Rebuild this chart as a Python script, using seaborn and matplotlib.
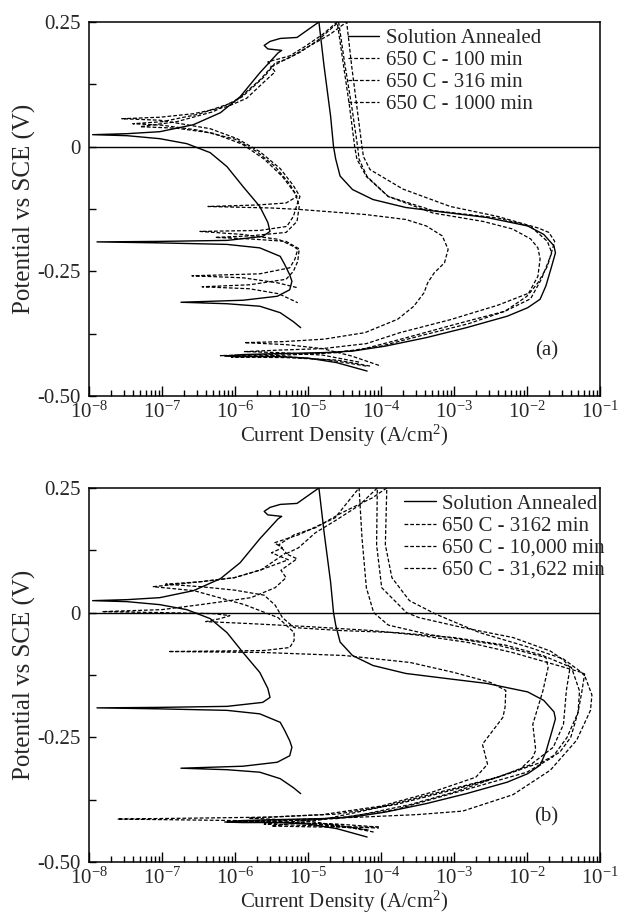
import numpy as np
import pandas as pd
import matplotlib
matplotlib.use('Agg')
import matplotlib.pyplot as plt
import seaborn as sns
from matplotlib.ticker import FixedLocator, FixedFormatter, NullFormatter, LogFormatterSciNotation

# ---- donnees : log10(i) et potentiel (V vs SCE) ----
# courbe solution recuite (identique dans (a) et (b))
sa_logi = [-4.19, -4.61, -5.0, -5.4, -5.9, -6.14, -5.9, -5.4, -4.78, -4.39, -3.94, -3.38, -2.83, -2.27,
           -1.99, -1.82, -1.74, -1.66, -1.61, -1.63, -1.77, -1.99, -2.55, -3.11, -3.66, -4.11, -4.39,
           -4.56, -4.62, -4.65, -4.69, -4.78, -4.85,
           -5.15, -5.38, -5.52, -5.60, -5.55, -5.36, -5.41, -5.66, -5.93, -6.2, -6.57, -7.03, -7.48,
           -7.95, -7.48, -7.03, -6.66, -6.34, -6.11, -5.89, -5.66, -5.55, -5.52, -5.62, -6.11, -7.03,
           -7.89, -7.03, -6.11, -5.66, -5.38, -5.32, -5.25, -5.22, -5.25, -5.42, -5.89, -6.74, -6.11,
           -5.66, -5.38, -5.2, -5.10]
sa_pot = [-0.450, -0.433, -0.424, -0.421, -0.421, -0.420, -0.417, -0.415, -0.413, -0.41, -0.40, -0.383,
          -0.363, -0.34, -0.323, -0.306, -0.279, -0.239, -0.213, -0.199, -0.176, -0.159, -0.142, -0.132,
          -0.122, -0.106, -0.086, -0.059, -0.025, 0.0, 0.061, 0.162, 0.25,
          0.219, 0.217, 0.211, 0.203, 0.196, 0.193, 0.188, 0.148, 0.10, 0.068, 0.044, 0.03, 0.026,
          0.024, 0.022, 0.016, 0.006, -0.012, -0.04, -0.08, -0.12, -0.152, -0.17, -0.18, -0.188, -0.19,
          -0.191, -0.193, -0.196, -0.203, -0.22, -0.236, -0.257, -0.27, -0.287, -0.30, -0.308, -0.312,
          -0.315, -0.32, -0.333, -0.351, -0.363]

# (a) 650 C - 100 min
a100_logi = [-4.3, -4.8, -5.4, -5.87, -5.4, -4.8, -4.2, -3.74, -3.05, -2.4, -1.96, -1.85, -1.72, -1.62,
             -1.7, -1.85, -2.4, -3.05, -3.7, -4.15, -4.24, -4.26, -4.33, -4.40, -4.47,
             -4.7, -5.0, -5.2, -5.35, -5.5, -5.45, -5.6, -5.84, -6.11, -6.57, -7.03, -7.55, -7.03, -6.34,
             -5.97, -5.66, -5.38, -5.2, -5.11, -5.15, -5.2, -5.29, -5.66, -6.48, -5.9, -5.4, -5.2, -5.14,
             -5.18, -5.25, -5.66, -6.59, -5.89, -5.42, -5.14]
a100_pot = [-0.432, -0.418, -0.413, -0.411, -0.408, -0.405, -0.395, -0.373, -0.347, -0.318, -0.293,
            -0.273, -0.24, -0.19, -0.172, -0.163, -0.14, -0.12, -0.085, -0.046, -0.02, 0.0, 0.08, 0.16,
            0.25,
            0.225, 0.2, 0.183, 0.172, 0.16, 0.15, 0.13, 0.097, 0.08, 0.066, 0.059, 0.056, 0.053, 0.036,
            0.016, -0.01, -0.044, -0.078, -0.10, -0.116, -0.14, -0.16, -0.168, -0.170, -0.176, -0.186,
            -0.2, -0.206, -0.226, -0.243, -0.255, -0.259, -0.263, -0.273, -0.283]

# (a) 650 C - 316 min
a316_logi = [-4.2, -4.7, -5.4, -6.2, -5.4, -4.8, -4.3, -3.7, -3.0, -2.3, -1.95, -1.8, -1.66, -1.72,
             -1.95, -2.4, -3.29, -3.9, -4.19, -4.3, -4.32, -4.4, -4.5, -4.58,
             -4.85, -5.1, -5.3, -5.45, -5.5, -5.6, -5.9, -6.3, -6.8, -7.3, -6.8, -6.3, -5.9, -5.6, -5.35,
             -5.17, -5.12, -5.15, -5.3, -5.8, -6.27, -5.8, -5.3, -5.12, -5.14, -5.2, -5.3, -5.8, -6.45,
             -5.8, -5.4, -5.14]
a316_pot = [-0.44, -0.428, -0.42, -0.419, -0.416, -0.414, -0.408, -0.385, -0.357, -0.33, -0.305,
            -0.265, -0.213, -0.19, -0.16, -0.143, -0.128, -0.1, -0.06, -0.025, 0.0, 0.08, 0.17, 0.25,
            0.215, 0.19, 0.175, 0.168, 0.158, 0.14, 0.1, 0.07, 0.05, 0.04, 0.037, 0.027, 0.005, -0.025,
            -0.06, -0.095, -0.12, -0.15, -0.172, -0.179, -0.182, -0.185, -0.19, -0.205, -0.23, -0.25,
            -0.266, -0.277, -0.281, -0.285, -0.295, -0.313]

# (a) 650 C - 1000 min
a1000_logi = [-4.15, -4.6, -5.3, -6.05, -5.3, -4.6, -4.0, -3.4, -2.8, -2.3, -2.0, -1.85, -1.82, -1.85,
              -1.95, -2.2, -2.6, -3.29, -3.9, -4.2, -4.33, -4.36, -4.43, -4.52, -4.60,
              -4.8, -5.05, -5.25, -5.4, -5.55, -5.5, -5.65, -6.0, -6.5, -7.0, -7.4, -7.0, -6.5, -6.0,
              -5.7, -5.45, -5.25, -5.15, -5.3, -5.7, -6.37, -5.5, -5.11, -4.22, -3.66, -3.38, -3.16,
              -3.08, -3.13, -3.27, -3.36, -3.41, -3.55, -3.77, -4.22, -4.78, -5.34, -5.87, -5.3, -4.8,
              -4.4, -4.0]
a1000_pot = [-0.44, -0.428, -0.423, -0.422, -0.418, -0.413, -0.4, -0.377, -0.355, -0.33, -0.3, -0.26,
             -0.225, -0.203, -0.185, -0.165, -0.15, -0.133, -0.1, -0.06, -0.025, 0.0, 0.08, 0.17, 0.25,
             0.225, 0.2, 0.182, 0.176, 0.17, 0.16, 0.135, 0.09, 0.065, 0.05, 0.046, 0.043, 0.033, 0.015,
             -0.01, -0.04, -0.075, -0.1, -0.113, -0.117, -0.12, -0.123, -0.126, -0.136, -0.146, -0.159,
             -0.179, -0.206, -0.233, -0.253, -0.273, -0.293, -0.32, -0.346, -0.373, -0.386, -0.391,
             -0.393, -0.397, -0.405, -0.42, -0.44]

# (b) 650 C - 3162 min
b3162_logi = [-4.03, -4.6, -5.3, -6.1, -5.3, -4.6, -4.26, -3.6, -3.0, -2.5, -2.1, -1.92, -1.88, -1.92,
              -1.78, -1.71, -1.74, -2.43, -3.34, -3.9, -4.1, -4.2, -4.26, -4.30,
              -4.63, -5.13, -5.46, -5.35, -5.5, -5.27, -5.64, -6.01, -6.47, -7.12, -6.56, -5.87, -5.41,
              -5.19, -5.19, -5.25, -5.6, -6.91, -5.6, -4.5, -3.6, -3.0, -2.5, -2.29, -2.30, -2.33, -2.61,
              -2.54, -2.7, -3.3, -4.0, -4.8, -5.81, -5.0, -4.17]
b3162_pot = [-0.43, -0.424, -0.421, -0.42, -0.417, -0.413, -0.405, -0.385, -0.36, -0.335, -0.315,
             -0.29, -0.276, -0.224, -0.156, -0.11, -0.09, -0.064, -0.044, -0.025, 0.0, 0.05, 0.15, 0.25,
             0.19, 0.156, 0.14, 0.13, 0.12, 0.106, 0.086, 0.07, 0.062, 0.052, 0.044, 0.016, -0.01,
             -0.04, -0.056, -0.07, -0.076, -0.078, -0.08, -0.086, -0.1, -0.12, -0.14, -0.156, -0.19,
             -0.21, -0.264, -0.304, -0.33, -0.36, -0.388, -0.405, -0.412, -0.418, -0.436]

# (b) 650 C - 10,000 min
b10000_logi = [-4.1, -4.6, -5.5, -6.5, -7.61, -6.5, -5.5, -4.6, -3.8, -3.0, -2.4, -1.95, -1.64, -1.5,
               -1.46, -1.41, -1.5, -1.68, -2.19, -2.88, -3.48, -3.65, -3.99, -4.06, -4.05,
               -4.3, -4.63, -4.9, -5.13, -5.3, -5.15, -5.37, -5.3, -5.45, -5.78, -6.47, -7.0, -7.82,
               -7.0, -6.3, -6.07, -6.2, -6.4, -5.8, -5.0, -4.12, -3.5, -2.8, -2.2, -1.6, -1.25, -1.21,
               -1.25, -1.3, -1.4, -1.55, -1.8, -2.4, -3.2, -4.0, -4.8, -5.5, -4.8, -4.03]
b10000_pot = [-0.44, -0.426, -0.418, -0.416, -0.414, -0.412, -0.41, -0.404, -0.385, -0.355, -0.33,
              -0.305, -0.27, -0.224, -0.156, -0.11, -0.095, -0.077, -0.05, -0.03, -0.01, 0.0, 0.05,
              0.136, 0.25,
              0.215, 0.184, 0.16, 0.13, 0.118, 0.108, 0.085, 0.07, 0.05, 0.03, 0.016, 0.006, 0.002,
              0.0, -0.002, -0.006, -0.012, -0.018, -0.022, -0.028, -0.036, -0.045, -0.06, -0.08,
              -0.105, -0.12, -0.123, -0.16, -0.2, -0.25, -0.28, -0.3, -0.33, -0.36, -0.39, -0.415,
              -0.428, -0.43, -0.43]

# (b) 650 C - 31,622 min
b31622_logi = [-4.17, -4.8, -5.4, -6.0, -5.4, -4.8, -4.26, -3.5, -2.88, -2.19, -1.68, -1.32, -1.13,
               -1.11, -1.2, -1.25, -1.5, -1.96, -2.65, -3.25, -3.61, -3.85, -3.94, -3.92,
               -4.12, -4.54, -4.9, -5.19, -5.4, -5.3, -5.5, -5.64, -6.01, -6.47, -6.95, -6.47, -6.0,
               -5.6, -5.45, -5.35, -5.19, -4.54, -3.8, -3.0, -2.3, -1.8, -1.39, -1.28, -1.3, -1.45,
               -1.65, -2.0, -2.6, -3.2, -3.8, -4.5, -5.6, -4.8, -4.03]
b31622_pot = [-0.436, -0.425, -0.42, -0.418, -0.416, -0.413, -0.41, -0.405, -0.398, -0.365, -0.316,
              -0.256, -0.196, -0.165, -0.13, -0.12, -0.093, -0.07, -0.04, -0.003, 0.024, 0.07, 0.136,
              0.25,
              0.23, 0.2, 0.17, 0.156, 0.136, 0.12, 0.1, 0.086, 0.07, 0.062, 0.057, 0.052, 0.045, 0.035,
              0.015, -0.01, -0.03, -0.036, -0.04, -0.05, -0.065, -0.085, -0.11, -0.157, -0.2, -0.25,
              -0.29, -0.32, -0.345, -0.37, -0.395, -0.41, -0.424, -0.428, -0.432]

labels_a = ['Solution Annealed', '650 C - 100 min', '650 C - 316 min', '650 C - 1000 min']
labels_b = ['Solution Annealed', '650 C - 3162 min', '650 C - 10,000 min', '650 C - 31,622 min']
xtick_decades = [-8, -7, -6, -5, -4, -3, -2, -1]
ytick_vals = [-0.5, -0.375, -0.25, -0.125, 0.0, 0.125, 0.25]
ytick_text = ['-0.50', '', '-0.25', '', '0', '', '0.25']

# ---- style ----
sns.set_style('ticks')
plt.rcParams['font.family'] = ['Liberation Serif', 'DejaVu Serif']
plt.rcParams['mathtext.fontset'] = 'custom'
plt.rcParams['mathtext.rm'] = 'Liberation Serif'
plt.rcParams['mathtext.it'] = 'Liberation Serif:italic'
plt.rcParams['axes.unicode_minus'] = False

fig = plt.figure(figsize=(6.32, 9.16), dpi=100)
ax_a = fig.add_axes([0.1408, 0.5677, 0.8085, 0.4083])
ax_b = fig.add_axes([0.1408, 0.0590, 0.8085, 0.4083])

major_x = [10.0 ** d for d in xtick_decades]
minor_x = [m * 10.0 ** d for d in xtick_decades[:-1] for m in range(2, 10)]


def draw_panel(ax, curves, labels, tag, leg_x):
    for k, ((logi, pot), lab) in enumerate(zip(curves, labels)):
        df = pd.DataFrame({'i': 10.0 ** np.array(logi), 'E': pot})
        if k == 0:
            sns.lineplot(data=df, x='i', y='E', sort=False, estimator=None, ax=ax,
                         color='black', lw=1.0, label=lab)
        else:
            sns.lineplot(data=df, x='i', y='E', sort=False, estimator=None, ax=ax,
                         color='black', lw=0.9, linestyle=(0, (3, 1.6)), label=lab)
    ax.axhline(0, color='black', lw=1.0)
    ax.set_xscale('log')
    ax.set_xlim(1e-8, 1e-1)
    ax.set_ylim(-0.5, 0.25)
    ax.xaxis.set_major_locator(FixedLocator(major_x))
    ax.xaxis.set_major_formatter(LogFormatterSciNotation())
    ax.xaxis.set_minor_locator(FixedLocator(minor_x))
    ax.xaxis.set_minor_formatter(NullFormatter())
    ax.yaxis.set_major_locator(FixedLocator(ytick_vals))
    ax.yaxis.set_major_formatter(FixedFormatter(ytick_text))
    ax.tick_params(axis='both', which='both', direction='in', top=False, right=False,
                   color='black', width=1.0)
    ax.tick_params(axis='x', which='major', length=7, pad=4, labelsize=15)
    ax.tick_params(axis='x', which='minor', length=4)
    ax.tick_params(axis='y', which='major', length=5, pad=6, labelsize=15)
    for sp in ax.spines.values():
        sp.set_color('black')
        sp.set_linewidth(1.1)
    ax.set_xlabel('Current Density (A/cm$^{2}$)', fontsize=15, labelpad=0)
    ax.set_ylabel('Potential vs SCE (V)', fontsize=18, labelpad=1)
    ax.legend(loc='upper left', bbox_to_anchor=(leg_x, 1.0), frameon=False, fontsize=15,
              handlelength=1.5, handletextpad=0.3, labelspacing=0.12, borderaxespad=0.1,
              borderpad=0.2)
    ax.text(0.895, 0.12, tag, transform=ax.transAxes, fontsize=15, ha='center', va='center')


curves_a = [(sa_logi, sa_pot), (a100_logi, a100_pot), (a316_logi, a316_pot), (a1000_logi, a1000_pot)]
curves_b = [(sa_logi, sa_pot), (b3162_logi, b3162_pot), (b10000_logi, b10000_pot),
            (b31622_logi, b31622_pot)]

draw_panel(ax_a, curves_a, labels_a, '(a)', 0.495)
draw_panel(ax_b, curves_b, labels_b, '(b)', 0.605)

fig.savefig('out.png', dpi=100)
